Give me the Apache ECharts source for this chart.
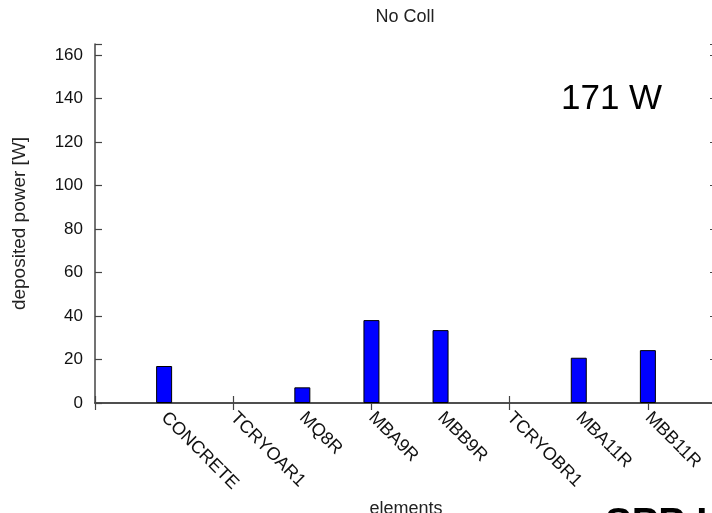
<!DOCTYPE html>
<html>
<head>
<meta charset="utf-8">
<script src="https://cdn.jsdelivr.net/npm/echarts@6/dist/echarts.min.js"></script>
<style>html,body{margin:0;padding:0;background:#fff}#c{width:712px;height:513px}</style>
</head>
<body>
<div id="c"></div>
<script>
const categories = ["", "CONCRETE", "TCRYOAR1", "MQ8R", "MBA9R", "MBB9R", "TCRYOBR1", "MBA11R", "MBB11R", ""];
const powerValues = [null, 17.0, 0, 7.2, 38.1, 33.5, 0, 20.8, 24.3, null];
const yTicks = [0, 20, 40, 60, 80, 100, 120, 140, 160];
const titleText = "No Coll";
const totalText = "171 W";
const footerText = "SPP H";

const chart = echarts.init(document.getElementById('c'));
const font = 'Liberation Sans, Arial, sans-serif';
const axisLineStyle = { color: '#444', width: 1.5 };
const tickStyle = { color: '#444', width: 1.2 };
chart.setOption({
  animation: false,
  backgroundColor: '#fff',
  title: {
    text: titleText, left: 405, top: 8, padding: 0, textAlign: 'center',
    textStyle: { fontFamily: font, fontSize: 18, fontWeight: 'normal', color: '#222' }
  },
  grid: { left: 95, top: 44, bottom: 110, right: -5, outerBoundsMode: 'none', containLabel: false },
  xAxis: [{
    type: 'category', data: categories, boundaryGap: false, position: 'bottom',
    name: 'elements', nameLocation: 'middle', nameGap: 89,
    nameTextStyle: { fontFamily: font, fontSize: 18, color: '#222' },
    axisLine: { lineStyle: axisLineStyle },
    axisTick: { inside: true, length: 7, lineStyle: tickStyle },
    axisLabel: { rotate: -45, fontFamily: font, fontSize: 18, color: '#111', margin: 12, interval: 0 },
    splitLine: { show: false }
  }, {
    type: 'category', data: categories, boundaryGap: false, position: 'top',
    axisLine: { lineStyle: axisLineStyle },
    axisTick: { inside: true, length: 7, lineStyle: tickStyle },
    axisLabel: { show: false }, splitLine: { show: false }
  }],
  yAxis: [{
    type: 'value', min: 0, max: 165, interval: 20, position: 'left',
    name: 'deposited power [W]', nameLocation: 'middle', nameGap: 66,
    nameTextStyle: { fontFamily: font, fontSize: 19, color: '#222' },
    axisLine: { show: true, lineStyle: axisLineStyle },
    axisTick: { show: true, inside: true, length: 7, lineStyle: tickStyle },
    axisLabel: {
      fontFamily: font, fontSize: 17, color: '#111', margin: 12,
      formatter: v => yTicks.indexOf(v) >= 0 ? String(v) : ''
    },
    splitLine: { show: false }
  }, {
    type: 'value', min: 0, max: 165, interval: 20, position: 'right',
    axisLine: { show: true, lineStyle: axisLineStyle },
    axisTick: { show: true, inside: true, length: 7, lineStyle: tickStyle },
    axisLabel: { show: false }, splitLine: { show: false }
  }],
  series: [{
    type: 'bar', data: powerValues.map(v => v === 0 ? '-' : v), barWidth: 16, xAxisIndex: 0, yAxisIndex: 0,
    itemStyle: { color: '#0000ff', borderColor: '#000', borderWidth: 1 }
  }],
  graphic: [{
    type: 'text', left: 561, top: 82,
    style: { text: totalText, font: '35px ' + font, fill: '#000' }
  }, {
    type: 'text', left: 605, top: 505,
    style: { text: footerText, font: 'bold 40px ' + font, fill: '#000' }
  }]
});
</script>
</body>
</html>
